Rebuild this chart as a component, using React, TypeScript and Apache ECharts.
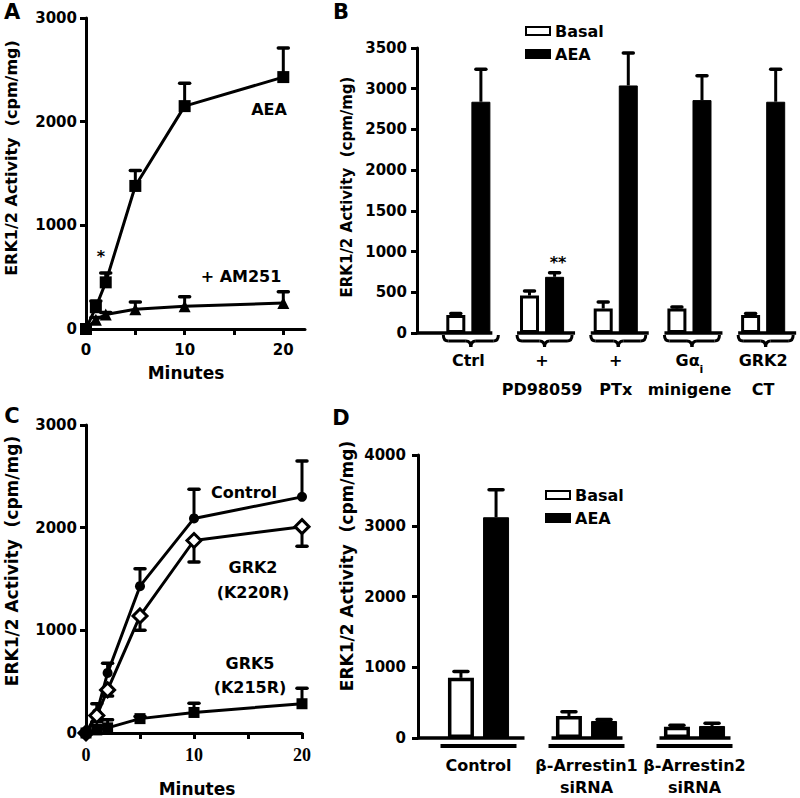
import React, { useEffect, useRef } from 'react';
import * as echarts from 'echarts';

// ---------- Panel A ----------
const timeA = [0, 1, 2, 5, 10, 20];
const aeaA = [0, 210, 450, 1380, 2150, 2430];
const aeaErrA = [0, 60, 90, 150, 220, 280];
const am251A = [0, 90, 140, 190, 220, 250];
const am251ErrA = [0, 20, 20, 70, 90, 110];
const xTicksA = [0, 5, 10, 15, 20];
const xLabelsA = [0, 10, 20];

// ---------- Panel B ----------
const bCategories = ['Ctrl', '+\nPD98059', '+\nPTx', 'Gαi\nminigene', 'GRK2\nCT'];
const basalB = [220, 460, 300, 300, 220];
const basalErrB = [20, 55, 80, 20, 20];
const aeaB = [2840, 690, 3040, 2860, 2840];
const aeaErrB = [400, 50, 400, 300, 400];

// ---------- Panel C ----------
const timeC = [0, 1, 2, 5, 10, 20];
const controlC = [0, 195, 585, 1430, 2090, 2300];
const controlErrC = [0, 90, 95, 170, 285, 350];
const grk2C = [0, 170, 420, 1140, 1875, 2010];
const grk2ErrC = [0, -60, -60, -140, -210, -190];
const grk5C = [0, 30, 50, 140, 200, 285];
const grk5ErrC = [0, 40, 80, 20, 90, 150];
const xTicksC = [0, 5, 10, 15, 20];
const xLabelsC = [0, 10, 20];

// ---------- Panel D ----------
const dCategories = ['Control', 'β-Arrestin1\nsiRNA', 'β-Arrestin2\nsiRNA'];
const basalD = [850, 310, 160];
const basalErrD = [90, 60, 20];
const aeaD = [3120, 240, 170];
const aeaErrD = [390, 20, 40];

const FONT = '"DejaVu Sans", "Liberation Sans", Arial, sans-serif';
const SERIF = '"Liberation Serif", "DejaVu Serif", serif';
const B_AXIS_OFFSET = 14.5;
const D_AXIS_OFFSET = 6.5;
const B_BAR_W = 19;
const B_BAR_GAP = 0.32;
const D_BAR_W = 26;
const D_BAR_GAP = 0.35;

const black = '#000';

function errorBar(dx: number, cap: number) {
  return (params: any, api: any) => {
    const x = api.value(0);
    const y = api.value(1);
    const e = api.value(2);
    if (!e) return { type: 'group', children: [] };
    const p0 = api.coord([x, y]);
    const p1 = api.coord([x, y + e]);
    const cx = p0[0] + dx;
    return {
      type: 'group',
      children: [
        { type: 'line', shape: { x1: cx, y1: p0[1], x2: cx, y2: p1[1] }, style: { stroke: black, lineWidth: 3 } },
        { type: 'line', shape: { x1: cx - cap, y1: p1[1], x2: cx + cap, y2: p1[1] }, style: { stroke: black, lineWidth: 3.5, lineCap: 'round' } },
      ],
    };
  };
}

function valueAxisX(grid: number, max: number, ticks: number[], labels: number[], serif: boolean) {
  return {
    type: 'value', gridIndex: grid, min: 0, max,
    axisLine: { show: true, onZero: false, lineStyle: { color: black, width: 3 } },
    axisTick: { show: true, length: 6, lineStyle: { color: black, width: 3 }, customValues: ticks },
    axisLabel: {
      customValues: labels, margin: 13, color: black, fontSize: serif ? 18 : 15, fontWeight: 'bold',
      fontFamily: serif ? SERIF : FONT, formatter: (v: number) => String(v),
    },
    splitLine: { show: false },
  };
}

function valueAxisY(grid: number, max: number, interval: number, offset: number, margin: number) {
  return {
    type: 'value', gridIndex: grid, min: 0, max, interval, offset,
    axisLine: { show: true, onZero: false, lineStyle: { color: black, width: 3 } },
    axisTick: { show: true, length: 6, lineStyle: { color: black, width: 3 } },
    axisLabel: { margin, color: black, fontSize: 15, fontWeight: 'bold', fontFamily: FONT, formatter: (v: number) => String(v) },
    splitLine: { show: false },
  };
}

function txt(text: string, x: number, y: number, size: number, rotate = false, family = FONT) {
  return {
    type: 'text', x, y, rotation: rotate ? Math.PI / 2 : 0,
    style: { text, fontSize: size, fontWeight: 'bold', fontFamily: family, fill: black, align: 'center', verticalAlign: 'middle' },
  };
}

export default function App() {
  const ref = useRef<HTMLDivElement>(null);
  useEffect(() => {
    if (!ref.current) return;
    const chart = echarts.init(ref.current, null, { renderer: 'svg' });
    const bOff = (B_BAR_W * (1 + B_BAR_GAP)) / 2;
    const dOff = (D_BAR_W * (1 + D_BAR_GAP)) / 2;

    const option: any = {
      animation: false,
      backgroundColor: '#fff',
      textStyle: { fontFamily: FONT, fontWeight: 'bold', color: black },
      grid: [
        { left: 86, top: 18, width: 219, height: 311 },
        { left: 431.5, top: 48, width: 370, height: 285 },
        { left: 86, top: 425, width: 216, height: 308 },
        { left: 424.5, top: 455, width: 324, height: 285 },
      ],
      xAxis: [
        valueAxisX(0, 22.2, xTicksA, xLabelsA, false),
        {
          type: 'category', gridIndex: 1, data: bCategories,
          axisLine: { show: false }, axisTick: { show: false },
          axisLabel: {
            interval: 0, margin: 13, lineHeight: 29, fontSize: 16, fontWeight: 'bold', color: black, fontFamily: FONT,
            formatter: (v: string) => v.replace('Gαi', 'Gα{sub|i}'),
            rich: { sub: { fontSize: 11, fontWeight: 'bold', fontFamily: FONT, color: black, verticalAlign: 'bottom', padding: [10, 0, 0, 0] } },
          },
        },
        valueAxisX(2, 20, xTicksC, xLabelsC, true),
        {
          type: 'category', gridIndex: 3, data: dCategories,
          axisLine: { show: false }, axisTick: { show: false },
          axisLabel: { interval: 0, margin: 16, lineHeight: 22, fontSize: 16, fontWeight: 'bold', color: black, fontFamily: FONT },
        },
      ],
      yAxis: [
        valueAxisY(0, 3000, 1000, 0, 9),
        valueAxisY(1, 3500, 500, B_AXIS_OFFSET, 10),
        valueAxisY(2, 3000, 1000, 0, 9),
        valueAxisY(3, 4000, 1000, D_AXIS_OFFSET, 12),
      ],
      legend: [
        {
          data: ['Basal', 'AEA'], orient: 'vertical', left: 520, top: 18, icon: 'rect',
          itemWidth: 24, itemHeight: 8, itemGap: 7, selectedMode: false,
          textStyle: { fontSize: 16, fontWeight: 'bold', color: black, fontFamily: FONT },
        },
        {
          data: ['Basal', 'AEA'], orient: 'vertical', left: 540, top: 482, icon: 'rect',
          itemWidth: 24, itemHeight: 8, itemGap: 7, selectedMode: false,
          textStyle: { fontSize: 16, fontWeight: 'bold', color: black, fontFamily: FONT },
        },
      ],
      series: [
        {
          name: 'Basal', type: 'bar', xAxisIndex: 1, yAxisIndex: 1, data: basalB,
          barWidth: B_BAR_W, barGap: `${B_BAR_GAP * 100}%`,
          itemStyle: { color: '#fff', borderColor: black, borderWidth: 3 },
        },
        {
          name: 'AEA', type: 'bar', xAxisIndex: 1, yAxisIndex: 1, data: aeaB,
          barWidth: B_BAR_W, barGap: `${B_BAR_GAP * 100}%`,
          itemStyle: { color: black, borderColor: black, borderWidth: 1 },
        },
        {
          name: 'errB-basal', type: 'custom', xAxisIndex: 1, yAxisIndex: 1, z: 3, clip: false,
          encode: { x: 0, y: 1 },
          data: basalB.map((v, i) => [i, v, basalErrB[i]]),
          renderItem: errorBar(-bOff, 5),
        },
        {
          name: 'errB-aea', type: 'custom', xAxisIndex: 1, yAxisIndex: 1, z: 3, clip: false,
          encode: { x: 0, y: 1 },
          data: aeaB.map((v, i) => [i, v, aeaErrB[i]]),
          renderItem: errorBar(bOff, 5),
        },
        {
          name: 'B-braces', type: 'custom', xAxisIndex: 1, yAxisIndex: 1, z: 4, clip: false,
          encode: { x: 0, y: 1 },
          data: bCategories.map((_, i) => [i, 0]),
          renderItem: (params: any, api: any) => {
            const i = api.value(0);
            const c = api.coord([i, 0]);
            const yb = c[1];
            const left = i === 0 ? params.coordSys.x - B_AXIS_OFFSET : c[0] - 25;
            const right = i === 0 ? c[0] + 24 : c[0] + 33;
            const x0 = c[0] - 25;
            const x1 = c[0] + 30;
            const xm = (x0 + x1) / 2;
            const s = { stroke: black, lineWidth: 3, fill: 'none' };
            return {
              type: 'group',
              children: [
                { type: 'line', shape: { x1: left, y1: yb, x2: right, y2: yb }, style: { stroke: black, lineWidth: 3.5 } },
                { type: 'bezierCurve', shape: { x1: x0, y1: yb + 2, cpx1: x0, cpy1: yb + 8, x2: x0 + 5, y2: yb + 8 }, style: s },
                { type: 'line', shape: { x1: x0 + 5, y1: yb + 8, x2: xm - 5, y2: yb + 8 }, style: s },
                { type: 'bezierCurve', shape: { x1: xm - 5, y1: yb + 8, cpx1: xm, cpy1: yb + 8, x2: xm, y2: yb + 14 }, style: s },
                { type: 'bezierCurve', shape: { x1: xm, y1: yb + 14, cpx1: xm, cpy1: yb + 8, x2: xm + 5, y2: yb + 8 }, style: s },
                { type: 'line', shape: { x1: xm + 5, y1: yb + 8, x2: x1 - 5, y2: yb + 8 }, style: s },
                { type: 'bezierCurve', shape: { x1: x1 - 5, y1: yb + 8, cpx1: x1, cpy1: yb + 8, x2: x1, y2: yb + 2 }, style: s },
              ],
            };
          },
        },
        {
          name: 'errA-aea', type: 'custom', xAxisIndex: 0, yAxisIndex: 0, z: 1, clip: false,
          encode: { x: 0, y: 1 },
          data: timeA.map((t, i) => [t, aeaA[i], aeaErrA[i]]),
          renderItem: errorBar(0, 5),
        },
        {
          name: 'errA-am251', type: 'custom', xAxisIndex: 0, yAxisIndex: 0, z: 1, clip: false,
          encode: { x: 0, y: 1 },
          data: timeA.map((t, i) => [t, am251A[i], am251ErrA[i]]),
          renderItem: errorBar(0, 5),
        },
        {
          name: 'A AEA', type: 'line', xAxisIndex: 0, yAxisIndex: 0,
          data: timeA.map((t, i) => [t, aeaA[i]]),
          symbol: 'rect', symbolSize: 12, lineStyle: { color: black, width: 3 }, itemStyle: { color: black },
        },
        {
          name: 'A AM251', type: 'line', xAxisIndex: 0, yAxisIndex: 0,
          data: timeA.map((t, i) => [t, am251A[i]]),
          symbol: 'triangle', symbolSize: 12, lineStyle: { color: black, width: 3 }, itemStyle: { color: black },
        },
        {
          name: 'errC-control', type: 'custom', xAxisIndex: 2, yAxisIndex: 2, z: 1, clip: false,
          encode: { x: 0, y: 1 },
          data: timeC.map((t, i) => [t, controlC[i], controlErrC[i]]),
          renderItem: errorBar(0, 5),
        },
        {
          name: 'errC-grk2', type: 'custom', xAxisIndex: 2, yAxisIndex: 2, z: 1, clip: false,
          encode: { x: 0, y: 1 },
          data: timeC.map((t, i) => [t, grk2C[i], grk2ErrC[i]]),
          renderItem: errorBar(0, 5),
        },
        {
          name: 'errC-grk5', type: 'custom', xAxisIndex: 2, yAxisIndex: 2, z: 1, clip: false,
          encode: { x: 0, y: 1 },
          data: timeC.map((t, i) => [t, grk5C[i], grk5ErrC[i]]),
          renderItem: errorBar(0, 5),
        },
        {
          name: 'C Control', type: 'line', xAxisIndex: 2, yAxisIndex: 2,
          data: timeC.map((t, i) => [t, controlC[i]]),
          symbol: 'circle', symbolSize: 10, lineStyle: { color: black, width: 3 }, itemStyle: { color: black },
        },
        {
          name: 'C GRK2', type: 'line', xAxisIndex: 2, yAxisIndex: 2,
          data: timeC.map((t, i) => [t, grk2C[i]]),
          symbol: 'diamond', symbolSize: 14, lineStyle: { color: black, width: 3 },
          itemStyle: { color: '#fff', borderColor: black, borderWidth: 3 },
        },
        {
          name: 'C GRK5', type: 'line', xAxisIndex: 2, yAxisIndex: 2,
          data: timeC.map((t, i) => [t, grk5C[i]]),
          symbol: 'rect', symbolSize: 11, lineStyle: { color: black, width: 3 }, itemStyle: { color: black },
        },
        {
          name: 'Basal', type: 'bar', xAxisIndex: 3, yAxisIndex: 3, data: basalD,
          barWidth: D_BAR_W, barGap: `${D_BAR_GAP * 100}%`,
          itemStyle: { color: '#fff', borderColor: black, borderWidth: 3.5 },
        },
        {
          name: 'AEA', type: 'bar', xAxisIndex: 3, yAxisIndex: 3, data: aeaD,
          barWidth: D_BAR_W, barGap: `${D_BAR_GAP * 100}%`,
          itemStyle: { color: black, borderColor: black, borderWidth: 1 },
        },
        {
          name: 'errD-basal', type: 'custom', xAxisIndex: 3, yAxisIndex: 3, z: 3, clip: false,
          encode: { x: 0, y: 1 },
          data: basalD.map((v, i) => [i, v, basalErrD[i]]),
          renderItem: errorBar(-dOff, 7),
        },
        {
          name: 'errD-aea', type: 'custom', xAxisIndex: 3, yAxisIndex: 3, z: 3, clip: false,
          encode: { x: 0, y: 1 },
          data: aeaD.map((v, i) => [i, v, aeaErrD[i]]),
          renderItem: errorBar(dOff, 7),
        },
        {
          name: 'D-base', type: 'custom', xAxisIndex: 3, yAxisIndex: 3, z: 4, clip: false,
          encode: { x: 0, y: 1 },
          data: dCategories.map((_, i) => [i, 0]),
          renderItem: (params: any, api: any) => {
            const i = api.value(0);
            const c = api.coord([i, 0]);
            const yb = c[1];
            const left = i === 0 ? params.coordSys.x - D_AXIS_OFFSET : c[0] - 35;
            const right = i === 0 ? c[0] + 46 : c[0] + 36;
            return {
              type: 'group',
              children: [
                { type: 'line', shape: { x1: left, y1: yb, x2: right, y2: yb }, style: { stroke: black, lineWidth: 3.5 } },
                { type: 'line', shape: { x1: c[0] - 38, y1: yb + 8, x2: c[0] + 38, y2: yb + 8 }, style: { stroke: black, lineWidth: 4 } },
              ],
            };
          },
        },
      ],
      graphic: [
        txt('A', 12, 12, 21),
        txt('B', 341, 12, 21),
        txt('C', 12, 416, 21),
        txt('D', 341, 418, 21),
        txt('ERK1/2 Activity  (cpm/mg)', 11, 158, 16, true),
        txt('ERK1/2 Activity  (cpm/mg)', 347, 187, 15, true),
        txt('ERK1/2 Activity  (cpm/mg)', 12, 561, 17, true),
        txt('ERK1/2 Activity  (cpm/mg)', 347, 566, 17, true),
        txt('Minutes', 186, 373, 17),
        txt('Minutes', 197, 789, 17),
        txt('AEA', 269, 109, 16),
        txt('+ AM251', 241, 276, 16),
        txt('*', 101, 256, 16),
        txt('**', 558, 262, 16),
        txt('Control', 244, 492, 16),
        txt('GRK2', 253, 567, 16),
        txt('(K220R)', 253, 592, 16),
        txt('GRK5', 250, 663, 16),
        txt('(K215R)', 250, 687, 16),
      ],
    };
    chart.setOption(option);
    return () => chart.dispose();
  }, []);
  return <div ref={ref} style={{ position: 'fixed', left: 0, top: 0, width: 800, height: 798, background: '#fff' }} />;
}
